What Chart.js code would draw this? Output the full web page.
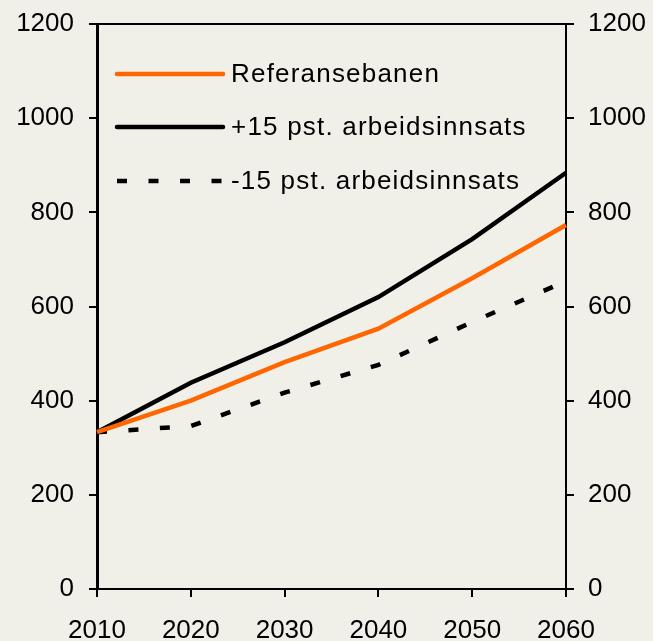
<!DOCTYPE html>
<html>
<head>
<meta charset="utf-8">
<script src="https://cdn.jsdelivr.net/npm/chart.js@4/dist/chart.umd.min.js"></script>
<style>
html,body{margin:0;padding:0;background:#f0efe8;}
#wrap{width:653px;height:641px;position:relative;}
</style>
</head>
<body>
<div id="wrap"><canvas id="c" width="653" height="641"></canvas></div>
<script>
const years = ['2010','2020','2030','2040','2050','2060'];
const referanse = [333, 400, 482, 553, 660, 773];
const pluss15 = [333, 438, 524, 620, 743, 884];
const minus15 = [333, 346, 417, 476, 567, 654];
const yTicks = [0, 200, 400, 600, 800, 1000, 1200];
const seriesNames = ['Referansebanen', '+15 pst. arbeidsinnsats', '-15 pst. arbeidsinnsats'];

const FONT = 'Arial, "Liberation Sans", sans-serif';

const framePlugin = {
  id: 'frame',
  afterDatasetsDraw(chart) {
    const ctx = chart.ctx, a = chart.chartArea;
    ctx.save();
    ctx.strokeStyle = '#000';
    ctx.lineWidth = 2;
    ctx.beginPath();
    ctx.moveTo(a.left, a.top);
    ctx.lineTo(a.right, a.top);
    ctx.stroke();
    ctx.restore();
  },
  afterDraw(chart) {
    const ctx = chart.ctx, a = chart.chartArea;
    ctx.save();
    ctx.font = '26px ' + FONT;
    try { ctx.letterSpacing = '1.2px'; } catch (e) {}
    ctx.textBaseline = 'middle';
    ctx.fillStyle = '#000';
    const rows = [a.top + 50, a.top + 103, a.top + 157];
    chart.data.datasets.forEach((ds, i) => {
      const y = rows[i];
      ctx.strokeStyle = ds.borderColor;
      ctx.lineWidth = 4.5;
      ctx.lineCap = ds.borderDash && ds.borderDash.length ? 'butt' : 'round';
      ctx.setLineDash(ds.borderDash || []);
      ctx.beginPath();
      ctx.moveTo(a.left + 20, y);
      ctx.lineTo(a.left + 126, y);
      ctx.stroke();
      ctx.setLineDash([]);
      ctx.fillText(ds.label, a.left + 134, y + 1);
    });
    ctx.restore();
  }
};

const tickFmt = v => String(v);

new Chart(document.getElementById('c'), {
  type: 'line',
  data: {
    labels: years,
    datasets: [
      { label: seriesNames[0], data: referanse, borderColor: '#ff6600', borderWidth: 4.5, pointRadius: 0, tension: 0, yAxisID: 'y' },
      { label: seriesNames[1], data: pluss15, borderColor: '#000000', borderWidth: 4.5, pointRadius: 0, tension: 0, yAxisID: 'y' },
      { label: seriesNames[2], data: minus15, borderColor: '#000000', borderWidth: 4.5, borderDash: [10, 21.5], pointRadius: 0, tension: 0, yAxisID: 'y' }
    ]
  },
  options: {
    responsive: false,
    animation: false,
    layout: { padding: { top: 24, left: 0, right: 0, bottom: 0 } },
    plugins: { legend: { display: false }, tooltip: { enabled: false } },
    scales: {
      x: {
        type: 'category',
        offset: false,
        grid: { drawOnChartArea: false, drawTicks: true, tickLength: 8, color: '#000', lineWidth: 2 },
        border: { display: true, color: '#000', width: 2 },
        ticks: { color: '#000', font: { size: 26, family: FONT }, padding: 18, maxRotation: 0 },
        afterFit(s) { s.height = 52; s.paddingLeft = 0; s.paddingRight = 0; }
      },
      y: {
        position: 'left',
        min: 0, max: 1200,
        afterBuildTicks(s) { s.ticks = yTicks.map(v => ({ value: v })); },
        grid: { drawOnChartArea: false, drawTicks: true, tickLength: 8, color: '#000', lineWidth: 2 },
        border: { display: true, color: '#000', width: 3 },
        ticks: { color: '#000', font: { size: 26, family: FONT }, padding: 15, callback: tickFmt },
        afterFit(s) { s.width = 97; s.paddingTop = 0; s.paddingBottom = 0; }
      },
      y2: {
        position: 'right',
        min: 0, max: 1200,
        afterBuildTicks(s) { s.ticks = yTicks.map(v => ({ value: v })); },
        grid: { drawOnChartArea: false, drawTicks: true, tickLength: 8, color: '#000', lineWidth: 2 },
        border: { display: true, color: '#000', width: 2 },
        ticks: { color: '#000', font: { size: 26, family: FONT }, padding: 14, callback: tickFmt },
        afterFit(s) { s.width = 87; s.paddingTop = 0; s.paddingBottom = 0; }
      }
    }
  },
  plugins: [framePlugin]
});
</script>
</body>
</html>
